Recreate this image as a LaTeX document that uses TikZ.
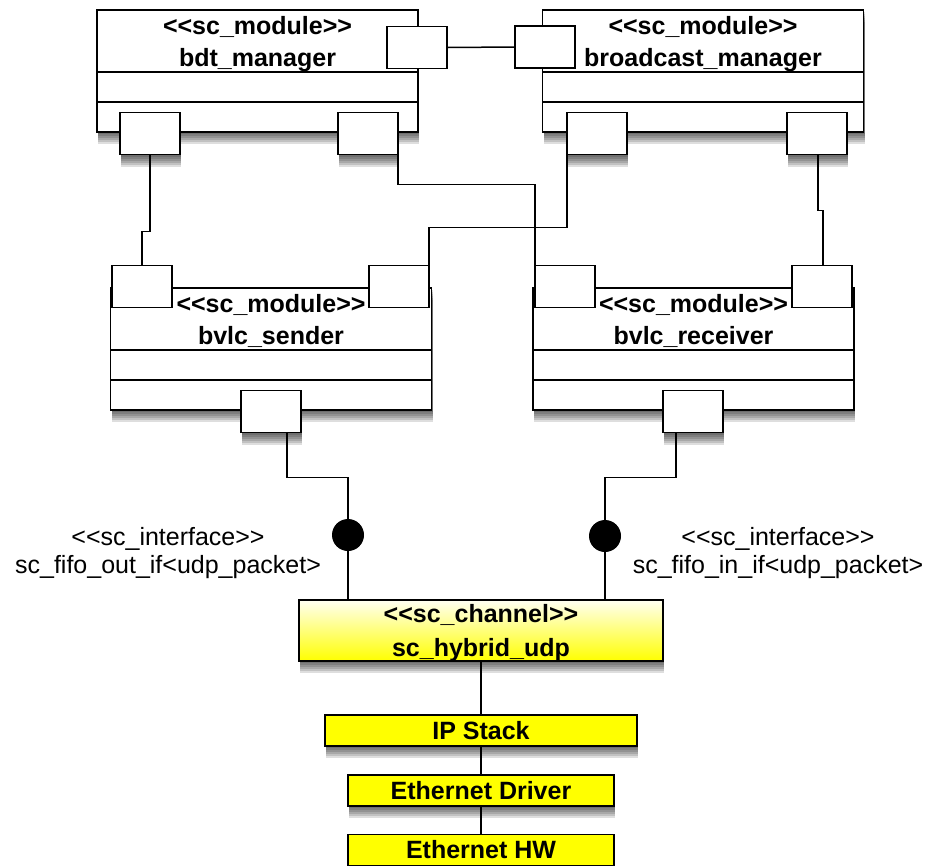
\documentclass[tikz,border=0pt]{standalone}
\usepackage{fontspec}
\setmainfont{Liberation Sans}
\usepackage{tikz}
\usetikzlibrary{positioning}
\usepackage{xcolor}
\definecolor{HwYellow}{HTML}{FFFF00}
\definecolor{PaleYellow}{HTML}{FFFFF2}
% stereotype brackets, kept apart so they do not turn into guillemets
\newcommand{\stereo}[1]{<\kern0pt<#1>\kern0pt>}

\tikzset{
  % soft shadow: a few shifted, faint copies of the shape
  shadowlayer/.style={preaction={fill=black, fill opacity=.13,
      transform canvas={xshift=1pt, yshift=-#1}}},
  drop/.style={shadowlayer=2pt, shadowlayer=4pt, shadowlayer=6pt,
      shadowlayer=8pt, shadowlayer=10pt, shadowlayer=12pt},
  modbox/.style={draw, fill=white, line width=1.6pt, drop,
      minimum width=321pt, minimum height=122pt,
      path picture={
        \draw[line width=1.6pt] ([yshift=-62pt]path picture bounding box.north west)
          -- ([yshift=-62pt]path picture bounding box.north east);
        \draw[line width=1.6pt] ([yshift=-92pt]path picture bounding box.north west)
          -- ([yshift=-92pt]path picture bounding box.north east);
      }},
  modname/.style={align=center, inner sep=0pt, font=\fontsize{25}{32}\selectfont\bfseries},
  port/.style={draw, fill=white, line width=1.6pt, inner sep=0pt,
      minimum width=60pt, minimum height=42pt},
  lowport/.style={port, drop},
  layer/.style={draw, fill=HwYellow, line width=1.6pt, drop, inner sep=0pt,
      minimum height=31pt, font=\fontsize{25}{30}\selectfont\bfseries},
  lollipop/.style={circle, fill=black, inner sep=0pt, minimum size=32pt},
  ifname/.style={align=center, inner sep=0pt, font=\fontsize{25}{28}\selectfont},
  wire/.style={line width=1.5pt}
}

\begin{document}
\begin{tikzpicture}[x=1pt, y=1pt]
  \useasboundingbox (0,0) rectangle (928,-865);

  % managers
  \node[modbox] (bdt) at (257.5,-71) {};
  \node[modname] (bdtName) at ([yshift=-35pt]bdt.north) {\stereo{sc\_module}\\bdt\_manager};
  \node[modbox] (bc) at (703,-71) {};
  \node[modname] (bcName) at ([yshift=-35pt]bc.north) {\stereo{sc\_module}\\broadcast\_manager};

  \node[port] (bdtBc) at (417,-47.5) {};
  \node[port] (bcBdt) at (545,-47) {};
  \node[lowport] (bdtSnd) at (150,-133.5) {};
  \node[lowport] (bdtRcv) at (368,-133.5) {};
  \node[lowport] (bcSnd) at (597,-133.5) {};
  \node[lowport] (bcRcv) at (817,-133.5) {};

  % bvlc sender / receiver
  \node[modbox] (snd) at (271,-349) {};
  \node[modname] (sndName) at ([yshift=-34pt]snd.north) {\stereo{sc\_module}\\bvlc\_sender};
  \node[modbox] (rcv) at (693.5,-349) {};
  \node[modname] (rcvName) at ([yshift=-34pt]rcv.north) {\stereo{sc\_module}\\bvlc\_receiver};

  \node[port] (sndBdt) at (142,-286.5) {};
  \node[port] (sndBc) at (399,-286.5) {};
  \node[lowport] (sndOut) at (271,-411.5) {};
  \node[port] (rcvBdt) at (565,-286.5) {};
  \node[port] (rcvBc) at (822,-286.5) {};
  \node[lowport] (rcvIn) at (693,-411.5) {};

  % channel and the layers under it
  \node[draw, line width=1.6pt, drop, top color=PaleYellow, bottom color=HwYellow,
        minimum width=364pt, minimum height=61pt] (chan) at (481,-630.5) {};
  \node[modname, font=\fontsize{25}{34}\selectfont\bfseries] (chanName)
    at ([yshift=-2.5pt]chan.center) {\stereo{sc\_channel}\\sc\_hybrid\_udp};
  \node[layer, minimum width=312pt, below=52.5pt of chan] (ip) {IP Stack};
  \node[layer, minimum width=266pt, below=27.5pt of ip] (drv) {Ethernet Driver};
  \node[layer, minimum width=266pt, below=26.5pt of drv] (hw) {Ethernet HW};

  % interfaces
  \node[lollipop] (outIf) at (348,-535) {};
  \node[lollipop] (inIf) at (605,-536) {};
  \node[ifname] (outName) at (168,-553) {\stereo{sc\_interface}\\sc\_fifo\_out\_if<udp\_packet>};
  \node[ifname] (inName) at (778,-553) {\stereo{sc\_interface}\\sc\_fifo\_in\_if<udp\_packet>};

  % wiring
  \draw[wire] (bdtBc.east) -- (bcBdt.west);
  \draw[wire] (bdtSnd.south) -- ++(0,-76) -| (sndBdt.north);
  \draw[wire] ([xshift=-1pt]bdtRcv.south east) -- ++(0,-29) -| ([xshift=1pt]rcvBdt.north west);
  \draw[wire] ([xshift=1pt]bcSnd.south west) -- ++(0,-72) -| ([xshift=-1pt]sndBc.north east);
  \draw[wire] ([xshift=1pt]bcRcv.south) -- ++(0,-55) -| ([xshift=1pt]rcvBc.north);

  \draw[wire] ([xshift=16pt]sndOut.south) -- ++(0,-44) -| (outIf);
  \draw[wire] (outIf) -- (outIf |- chan.north);
  \draw[wire] ([xshift=-17pt]rcvIn.south) -- ++(0,-44) -| (inIf);
  \draw[wire] (inIf) -- (inIf |- chan.north);

  \draw[wire] (chan) -- (ip);
  \draw[wire] (ip) -- (drv);
  \draw[wire] (drv) -- (hw);
\end{tikzpicture}
\end{document}
